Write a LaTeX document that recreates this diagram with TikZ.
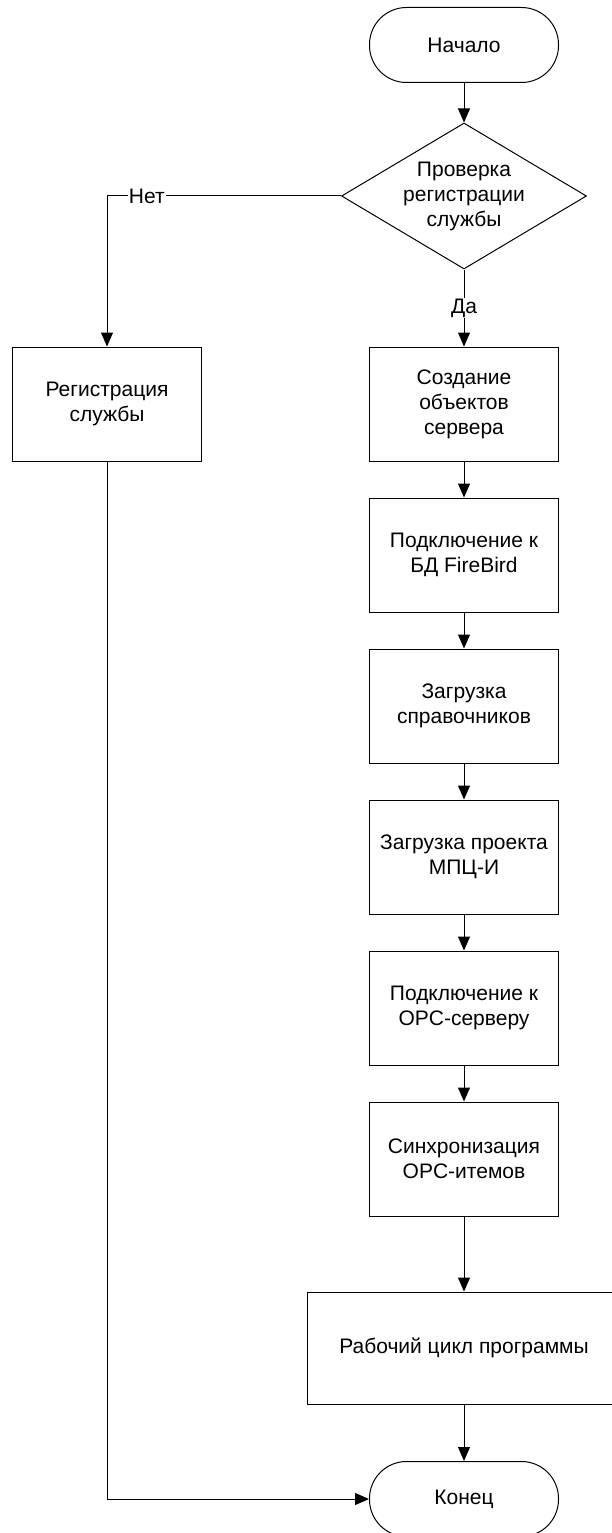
\documentclass[tikz,border=0pt]{standalone}
\usepackage{fontspec}
\setmainfont{Liberation Sans}
\usetikzlibrary{shapes.geometric}
\usetikzlibrary{arrows.meta}

\tikzset{
    blok/.style={draw, line width=1pt, minimum width=189pt, minimum height=114pt,
                 inner sep=0pt, align=center},
    term/.style={draw, line width=1pt, rounded corners=37pt, minimum width=189pt,
                 minimum height=75pt, inner sep=0pt},
    usl/.style={draw, line width=1pt, diamond, aspect=1.68, minimum width=245pt,
                minimum height=146pt, inner sep=0pt, align=center},
    strel/.style={line width=1pt, -{Triangle[length=14pt,width=12pt]}},
    metka/.style={fill=white, inner sep=1pt}
}

\begin{document}
\begin{tikzpicture}[x=1pt, y=-1pt, font=\fontsize{21}{25}\selectfont]
    \path[use as bounding box] (0,0) rectangle (612,1533);
    \clip (0,0) rectangle (612,1533);
    % start and check
    \node[term] (nach) at (464,45) {Начало};
    \node[usl] (prov) at (464,196) {Проверка\\регистрации\\службы};
    \node[blok] (reg) at (107,404) {Регистрация\\службы};
    % main chain
    \foreach \n/\y/\t in {b1/404/{Создание\\объектов\\сервера},
                          b2/555/{Подключение к\\БД FireBird},
                          b3/706/{Загрузка\\справочников},
                          b4/857/{Загрузка проекта\\МПЦ-И},
                          b5/1008/{Подключение к\\OPC-серверу},
                          b6/1159/{Синхронизация\\OPC-итемов}}
        \node[blok] (\n) at (464,\y) {\t};
    \node[blok, minimum width=314pt, minimum height=112pt] (cikl) at (464,1348)
        {Рабочий цикл программы};
    \node[term] (kon) at (464,1499) {Конец};
    % connectors
    \draw[strel] (nach) -- (prov);
    \draw[strel] (prov) -- node[metka, pos=0.5] {Да} (b1);
    \draw[strel] (prov.west) -- node[metka, pos=0.83] {Нет} (reg.north |- prov.west) -- (reg);
    \foreach \a/\b in {b1/b2, b2/b3, b3/b4, b4/b5, b5/b6, b6/cikl, cikl/kon}
        \draw[strel] (\a) -- (\b);
    \draw[strel] (reg) |- (kon);
\end{tikzpicture}
\end{document}
